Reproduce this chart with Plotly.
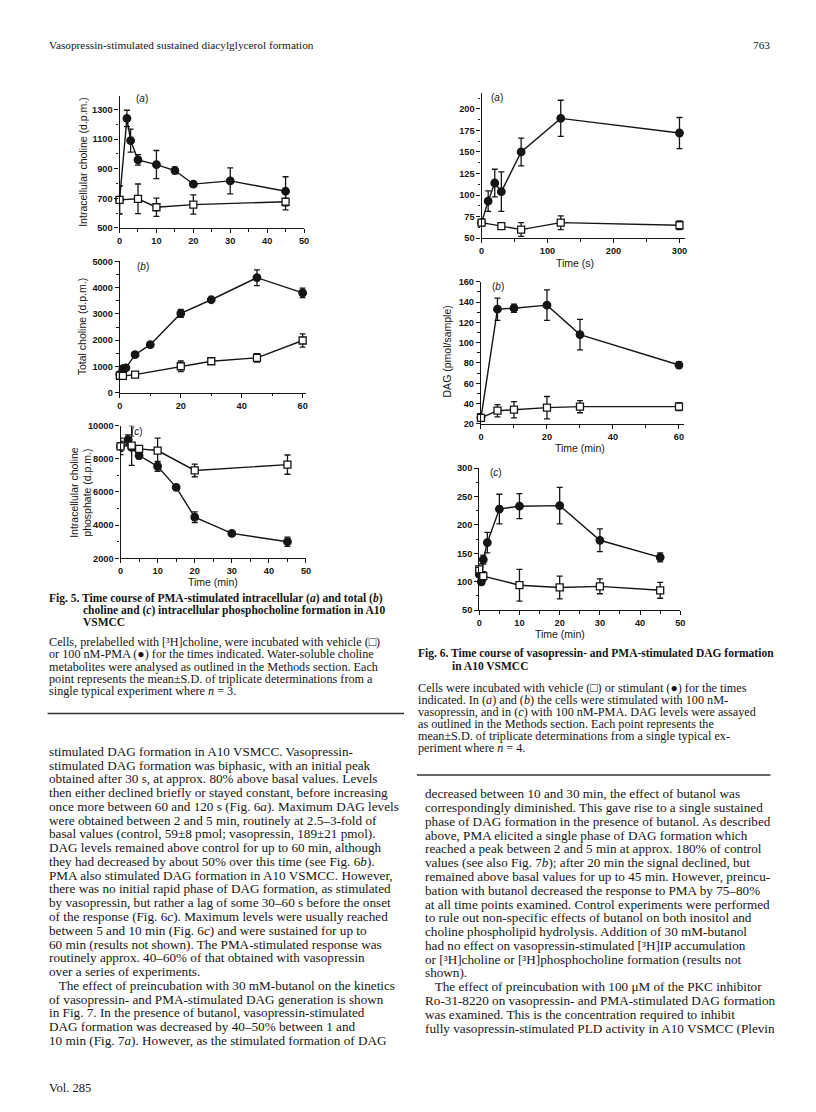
import plotly.graph_objects as go

W, H = 816, 1112

# ---------------- DATA ----------------
# Fig 5a intracellular choline (d.p.m.)
f5a_t_pma = [0, 2, 3, 5, 10, 15, 20, 30, 45]
f5a_pma = [690, 1240, 1090, 960, 928, 888, 796, 818, 748]
f5a_pma_sd = [95, 55, 78, 35, 95, 22, 14, 88, 98]
f5a_t_veh = [0, 5, 10, 20, 45]
f5a_veh = [690, 697, 640, 658, 677]
f5a_veh_sd = [95, 100, 62, 65, 55]

# Fig 5b total choline (d.p.m.)
f5b_t_pma = [0, 1, 2, 5, 10, 20, 30, 45, 60]
f5b_pma = [700, 920, 950, 1450, 1830, 3020, 3540, 4380, 3800]
f5b_pma_sd = [60, 60, 60, 80, 50, 150, 50, 300, 180]
f5b_t_veh = [0, 1, 5, 20, 30, 45, 60]
f5b_veh = [650, 640, 690, 1010, 1200, 1330, 1990]
f5b_veh_sd = [60, 40, 60, 200, 90, 160, 250]

# Fig 5c intracellular choline phosphate (d.p.m.)
f5c_t_pma = [0, 2, 3, 5, 10, 15, 20, 30, 45]
f5c_pma = [8750, 9150, 8700, 8200, 7550, 6280, 4480, 3500, 3000]
f5c_pma_sd = [300, 300, 200, 200, 300, 120, 320, 80, 280]
f5c_t_veh = [0, 3, 5, 10, 20, 45]
f5c_veh = [8750, 8800, 8600, 8500, 7300, 7650]
f5c_veh_sd = [500, 1200, 150, 750, 380, 580]

# Fig 6a DAG, vasopressin, time (s)
f6a_t_stim = [0, 10, 20, 30, 60, 120, 300]
f6a_stim = [68, 93, 114, 104, 150, 189, 172]
f6a_stim_sd = [4, 12, 16, 23, 16, 21, 18]
f6a_t_veh = [0, 30, 60, 120, 300]
f6a_veh = [68, 64, 60, 68, 65]
f6a_veh_sd = [4, 3, 8, 8, 5]

# Fig 6b DAG (pmol/sample), vasopressin, time (min)
f6b_t = [0, 5, 10, 20, 30, 60]
f6b_stim = [26, 133, 134, 137, 108, 78]
f6b_stim_sd = [2, 11, 4, 15, 15, 3]
f6b_veh = [26, 33, 34, 36, 37, 37]
f6b_veh_sd = [2, 6, 8, 11, 6, 4]

# Fig 6c DAG, PMA, time (min)
f6c_t_stim = [0, 0.5, 1, 2, 5, 10, 20, 30, 45]
f6c_stim = [113, 100, 139, 169, 228, 233, 234, 173, 143]
f6c_stim_sd = [8, 5, 8, 18, 26, 22, 32, 20, 8]
f6c_t_veh = [0, 1, 10, 20, 30, 45]
f6c_veh = [122, 110, 94, 90, 92, 85]
f6c_veh_sd = [10, 8, 28, 20, 13, 14]

# ---------------- TEXT ----------------
header_left = "Vasopressin-stimulated sustained diacylglycerol formation"
header_right = "763"
footer = "Vol. 285"

fig5_caption = [
    "<b>Fig. 5. Time course of PMA-stimulated intracellular (<i>a</i>) and total (<i>b</i>)</b>",
    "<b>choline and (<i>c</i>) intracellular phosphocholine formation in A10</b>",
    "<b>VSMCC</b>",
]
fig5_legend = [
    "Cells, prelabelled with [\u00b3H]choline, were incubated with vehicle (\u25a1)",
    "or 100 nM-PMA (\u25cf) for the times indicated. Water-soluble choline",
    "metabolites were analysed as outlined in the Methods section. Each",
    "point represents the mean\u00b1S.D. of triplicate determinations from a",
    "single typical experiment where <i>n</i> = 3.",
]
fig6_caption = [
    "<b>Fig. 6. Time course of vasopressin- and PMA-stimulated DAG formation</b>",
    "<b>in A10 VSMCC</b>",
]
fig6_legend = [
    "Cells were incubated with vehicle (\u25a1) or stimulant (\u25cf) for the times",
    "indicated. In (<i>a</i>) and (<i>b</i>) the cells were stimulated with 100 nM-",
    "vasopressin, and in (<i>c</i>) with 100 nM-PMA. DAG levels were assayed",
    "as outlined in the Methods section. Each point represents the",
    "mean\u00b1S.D. of triplicate determinations from a single typical ex-",
    "periment where <i>n</i> = 4.",
]
body_left = [
    "stimulated DAG formation in A10 VSMCC. Vasopressin-",
    "stimulated DAG formation was biphasic, with an initial peak",
    "obtained after 30 s, at approx. 80% above basal values. Levels",
    "then either declined briefly or stayed constant, before increasing",
    "once more between 60 and 120 s (Fig. 6<i>a</i>). Maximum DAG levels",
    "were obtained between 2 and 5 min, routinely at 2.5\u20133-fold of",
    "basal values (control, 59\u00b18 pmol; vasopressin, 189\u00b121 pmol).",
    "DAG levels remained above control for up to 60 min, although",
    "they had decreased by about 50% over this time (see Fig. 6<i>b</i>).",
    "PMA also stimulated DAG formation in A10 VSMCC. However,",
    "there was no initial rapid phase of DAG formation, as stimulated",
    "by vasopressin, but rather a lag of some 30\u201360 s before the onset",
    "of the response (Fig. 6<i>c</i>). Maximum levels were usually reached",
    "between 5 and 10 min (Fig. 6<i>c</i>) and were sustained for up to",
    "60 min (results not shown). The PMA-stimulated response was",
    "routinely approx. 40\u201360% of that obtained with vasopressin",
    "over a series of experiments.",
    "   The effect of preincubation with 30 mM-butanol on the kinetics",
    "of vasopressin- and PMA-stimulated DAG generation is shown",
    "in Fig. 7. In the presence of butanol, vasopressin-stimulated",
    "DAG formation was decreased by 40\u201350% between 1 and",
    "10 min (Fig. 7<i>a</i>). However, as the stimulated formation of DAG",
]
body_right = [
    "decreased between 10 and 30 min, the effect of butanol was",
    "correspondingly diminished. This gave rise to a single sustained",
    "phase of DAG formation in the presence of butanol. As described",
    "above, PMA elicited a single phase of DAG formation which",
    "reached a peak between 2 and 5 min at approx. 180% of control",
    "values (see also Fig. 7<i>b</i>); after 20 min the signal declined, but",
    "remained above basal values for up to 45 min. However, preincu-",
    "bation with butanol decreased the response to PMA by 75\u201380%",
    "at all time points examined. Control experiments were performed",
    "to rule out non-specific effects of butanol on both inositol and",
    "choline phospholipid hydrolysis. Addition of 30 mM-butanol",
    "had no effect on vasopressin-stimulated [\u00b3H]IP accumulation",
    "or [\u00b3H]choline or [\u00b3H]phosphocholine formation (results not",
    "shown).",
    "   The effect of preincubation with 100 \u03bcM of the PKC inhibitor",
    "Ro-31-8220 on vasopressin- and PMA-stimulated DAG formation",
    "was examined. This is the concentration required to inhibit",
    "fully vasopressin-stimulated PLD activity in A10 VSMCC (Plevin",
]

# ---------------- FIGURE ----------------
SERIF = "Liberation Serif"
SANS = "Liberation Sans"
INK = "#151515"

fig = go.Figure()


def px_x(px):
    return px / W


def px_y(py):
    return 1 - py / H


panels = [
    dict(n=1, xd=(117.7, 304), yd=(225, 92), xr=[0, 50], yr=[500, 1390], xdt=10, xmn=5, ydt=200, ymn=100, yt0=500),
    dict(n=2, xd=(118, 305.7), yd=(391.3, 258.7), xr=[0, 61], yr=[0, 5000], xdt=20, xmn=10, ydt=1000, ymn=500, yt0=0),
    dict(n=3, xd=(118.7, 306), yd=(558.3, 424.5), xr=[0, 50], yr=[2000, 10000], xdt=10, xmn=5, ydt=2000, ymn=1000, yt0=2000),
    dict(n=4, xd=(483.3, 688.3), yd=(235.3, 88.3), xr=[0, 307.7], yr=[50, 219], xdt=100, xmn=50, ydt=25, ymn=12.5, yt0=50),
    dict(n=5, xd=(482.7, 688), yd=(422.7, 279.3), xr=[0, 61.6], yr=[20, 160], xdt=20, xmn=10, ydt=20, ymn=10, yt0=20),
    dict(n=6, xd=(481, 684), yd=(610.7, 467.3), xr=[0, 50], yr=[50, 300], xdt=10, xmn=5, ydt=50, ymn=25, yt0=50),
]

tickfont = dict(family=SANS, size=9.2, color=INK, weight="bold")
layout_axes = {}
for p in panels:
    n = p["n"]
    sx = "" if n == 1 else str(n)
    layout_axes["xaxis" + sx] = dict(
        domain=[px_x(p["xd"][0]), px_x(p["xd"][1])], range=p["xr"], anchor="y" + sx,
        showline=True, linecolor=INK, linewidth=1.3, ticks="outside", ticklen=4, tickwidth=1.2,
        tickcolor=INK, tick0=0, dtick=p["xdt"], showgrid=False, zeroline=False, tickfont=tickfont,
        tickformat="d",
        minor=dict(ticks="outside", ticklen=2.5, tickwidth=1, tickcolor=INK, dtick=p["xmn"], showgrid=False),
        fixedrange=True,
    )
    layout_axes["yaxis" + sx] = dict(
        domain=[px_y(p["yd"][0]), px_y(p["yd"][1])], range=p["yr"], anchor="x" + sx,
        showline=True, linecolor=INK, linewidth=1.3, ticks="outside", ticklen=4, tickwidth=1.2,
        tickcolor=INK, tick0=p["yt0"], dtick=p["ydt"], showgrid=False, zeroline=False, tickfont=tickfont,
        tickformat="d",
        minor=dict(ticks="outside", ticklen=2.5, tickwidth=1, tickcolor=INK, dtick=p["ymn"], showgrid=False),
        fixedrange=True,
    )


def add_series(n, t, y, sd, filled):
    sx = "" if n == 1 else str(n)
    fig.add_trace(go.Scatter(
        x=t, y=y, mode="lines+markers", xaxis="x" + sx, yaxis="y" + sx,
        line=dict(color=INK, width=1.4),
        marker=dict(symbol="circle" if filled else "square", size=7.5 if filled else 7,
                    color=INK if filled else "white", line=dict(color=INK, width=1.3)),
        error_y=dict(type="data", array=sd, color=INK, thickness=1.3, width=3),
        cliponaxis=False, showlegend=False, hoverinfo="skip",
    ))


add_series(1, f5a_t_pma, f5a_pma, f5a_pma_sd, True)
add_series(1, f5a_t_veh, f5a_veh, f5a_veh_sd, False)
add_series(2, f5b_t_pma, f5b_pma, f5b_pma_sd, True)
add_series(2, f5b_t_veh, f5b_veh, f5b_veh_sd, False)
add_series(3, f5c_t_pma, f5c_pma, f5c_pma_sd, True)
add_series(3, f5c_t_veh, f5c_veh, f5c_veh_sd, False)
add_series(4, f6a_t_stim, f6a_stim, f6a_stim_sd, True)
add_series(4, f6a_t_veh, f6a_veh, f6a_veh_sd, False)
add_series(5, f6b_t, f6b_stim, f6b_stim_sd, True)
add_series(5, f6b_t, f6b_veh, f6b_veh_sd, False)
add_series(6, f6c_t_stim, f6c_stim, f6c_stim_sd, True)
add_series(6, f6c_t_veh, f6c_veh, f6c_veh_sd, False)

ann = []


def text(x, y, s, size=12.5, family=SERIF, anchor="left", angle=0, color=INK):
    ann.append(dict(x=px_x(x), y=px_y(y), xref="paper", yref="paper", text=s, showarrow=False,
                    xanchor=anchor, yanchor="middle", textangle=angle, borderpad=0,
                    font=dict(family=family, size=size, color=color)))


# axis titles
AX = 10.5
text(80, 158, "Intracellular choline (d.p.m.)", AX, SANS, "center", -90)
text(80, 325, "Total choline (d.p.m.)", AX, SANS, "center", -90)
text(78, 492, "Intracellular choline<br>phosphate (d.p.m.)", AX, SANS, "center", -90)
text(448, 350, "DAG (pmol/sample)", AX, SANS, "center", -90)
text(212, 582, "Time (min)", AX, SANS, "center")
text(578, 260, "Time (s)", AX, SANS, "center")
text(583, 447, "Time (min)", AX, SANS, "center")
text(563, 635, "Time (min)", AX, SANS, "center")

# panel labels
PL = 10
text(133, 94, "(<i>a</i>)", PL, SANS)
text(134, 264, "(<i>b</i>)", PL, SANS)
text(128, 430, "(<i>c</i>)", PL, SANS)
text(492, 93, "(<i>a</i>)", PL, SANS)
text(493, 284, "(<i>b</i>)", PL, SANS)
text(491, 472, "(<i>c</i>)", PL, SANS)

# header / footer
text(45, 40, header_left, 11.3)
text(776, 40, header_right, 11.3, anchor="right")
text(45, 1093, footer, 12.5)

# captions and legends
CAP = 11.5
LEG = 12.2
for i, s in enumerate(fig5_caption):
    text(45 if i == 0 else 80, 599 + 12 * i, s, CAP)
for i, s in enumerate(fig5_legend):
    text(45, 643 + 12.3 * i, s, LEG)
for i, s in enumerate(fig6_caption):
    text(418 if i == 0 else 452, 654 + 12.5 * i, s, CAP)
for i, s in enumerate(fig6_legend):
    text(418, 689 + 12.2 * i, s, LEG)

# body text
BODY = 13.2
for i, s in enumerate(body_left):
    text(45, 753 + 13.9 * i, s, BODY)
for i, s in enumerate(body_right):
    text(425, 796 + 13.9 * i, s, BODY)

shapes = [
    dict(type="line", xref="paper", yref="paper", x0=px_x(45), x1=px_x(405), y0=px_y(715), y1=px_y(715),
         line=dict(color="#333", width=1.5)),
    dict(type="line", xref="paper", yref="paper", x0=px_x(418), x1=px_x(775), y0=px_y(777), y1=px_y(777),
         line=dict(color="#333", width=1.5)),
]

fig.update_layout(
    width=W, height=H, margin=dict(l=0, r=0, t=0, b=0),
    paper_bgcolor="white", plot_bgcolor="rgba(0,0,0,0)",
    annotations=ann, shapes=shapes, showlegend=False,
    **layout_axes,
)

fig.write_html("out.html", config={"displayModeBar": False},
               post_script="document.body.style.margin='0';document.body.style.overflow='hidden';")
